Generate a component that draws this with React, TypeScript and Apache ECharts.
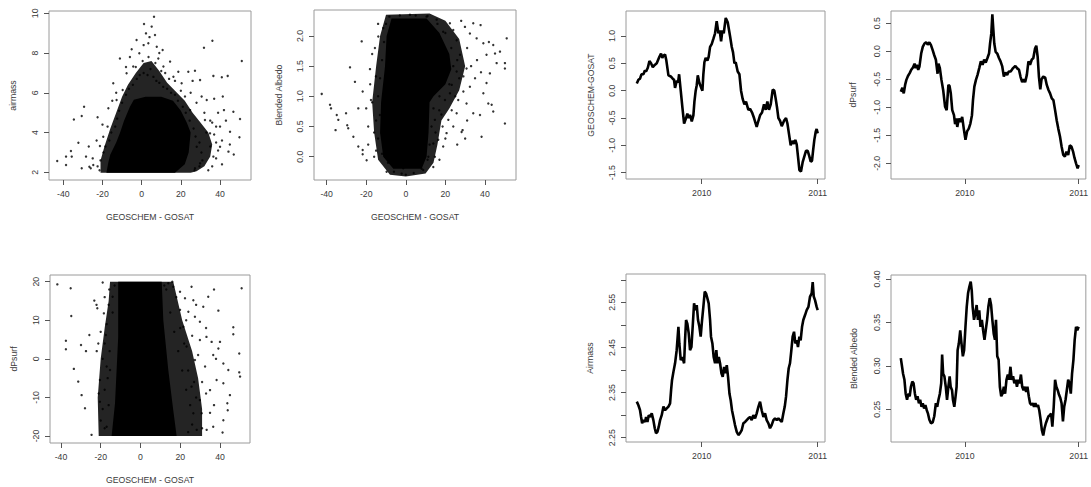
import React, { useEffect, useRef } from "react";
import * as echarts from "echarts";

// ---------- tick values ----------
const diffTicks = [-40, -20, 0, 20, 40];
const airmassScatterTicks = [2, 4, 6, 8, 10];
const albedoScatterTicks = [0, 0.5, 1.0, 1.5, 2.0];
const dpsurfScatterTicks = [-20, -10, 0, 10, 20];
const yearTicks = [2010, 2011];
const gosatDiffTicks = [-1.5, -1.0, -0.5, 0.0, 0.5, 1.0];
const dpsurfTimeTicks = [-2.0, -1.5, -1.0, -0.5, 0.0, 0.5];
const airmassTimeTicks = [2.25, 2.3, 2.35, 2.4, 2.45, 2.5, 2.55, 2.6];
const airmassTimeLabels = [2.25, 2.35, 2.45, 2.55];
const albedoTimeTicks = [0.25, 0.3, 0.35, 0.4];

// ---------- scatter: airmass vs GEOSCHEM - GOSAT ----------
// outline of the solid (saturated) point cloud
const airmassCore: [number, number][] = [
  [-18, 1.98], [-17, 2.5], [-16, 2.9], [-13, 3.5], [-11, 4.0], [-9, 4.6], [-6, 5.3], [-4, 5.65],
  [2, 5.8], [10, 5.8], [16, 5.6], [20, 5.1], [23, 4.5], [25, 4.0], [24, 3.0], [22, 2.4], [17, 1.98],
];
// outline of the densely speckled region around it
const airmassHalo: [number, number][] = [
  [-21, 1.98], [-21, 2.6], [-19, 3.3], [-16, 4.2], [-13, 5.0], [-10, 5.8], [-7, 6.4], [-3, 7.0],
  [1, 7.5], [5, 7.6], [9, 7.1], [13, 6.5], [17, 6.1], [22, 5.6], [26, 5.0], [30, 4.5], [34, 4.0],
  [36, 3.4], [35, 2.8], [32, 2.3], [28, 2.05], [25, 1.98],
];
const airmassPoints: [number, number][] = [
  [-43.1, 2.57], [-38.6, 2.79], [-38.6, 2.37], [-36.1, 3.07], [-35.7, 2.79], [-34.6, 4.66],
  [-32.3, 3.49], [-30.6, 4.83], [-30.6, 2.2], [-29.4, 5.3], [-28.4, 2.79], [-26.7, 2.28],
  [-25.0, 2.7], [-24.7, 2.37], [-22.5, 4.77], [-21.3, 3.32], [-19.6, 3.79], [-17.0, 5.22],
  [-17.4, 4.3], [-14.5, 6.48], [-12.8, 5.64], [-11.1, 7.73], [-9.7, 6.14], [-7.7, 6.98],
  [-5.1, 8.19], [-4.3, 7.32], [-2.6, 8.66], [-1.2, 7.99], [1.2, 9.46], [2.2, 8.99], [3.4, 8.49],
  [5.1, 9.33], [6.3, 9.83], [6.8, 8.91], [7.7, 8.32], [8.5, 7.73], [10.7, 8.15], [11.1, 7.32],
  [14.5, 7.57], [16.2, 6.81], [18.7, 7.06], [20.4, 6.48], [23.8, 7.06], [27.2, 7.11], [29.8, 6.64],
  [31.8, 8.27], [30.6, 5.81], [33.2, 5.64], [36.1, 8.62], [36.6, 6.85], [40.9, 6.78], [43.9, 6.85],
  [41.4, 5.81], [42.0, 5.13], [46.8, 5.05], [51.1, 7.6], [50.2, 4.68], [49.9, 3.76], [45.1, 4.04],
  [40.0, 4.3], [44.3, 3.04], [40.0, 3.29], [36.6, 2.79], [34.9, 3.96], [32.3, 4.63], [29.8, 2.45],
  [27.2, 2.2], [24.7, 5.13], [22.1, 5.81], [28.1, 3.29],
  [-21.5, 2.1], [-22.5, 2.3], [-21, 2.6], [-19.5, 3.0], [-18.5, 3.3], [-16.5, 3.6], [-15.5, 4.0],
  [-13.5, 4.3], [-12.5, 4.7], [-11.5, 5.1], [-10, 5.5], [-8, 5.9], [-6.5, 6.2], [-4.5, 6.4],
  [-2.5, 6.7], [-1, 6.9], [1, 7.0], [3, 6.9], [4.5, 7.2], [6, 6.8], [7.5, 6.6], [9, 6.5], [11, 6.3],
  [13, 6.2], [15, 6.0], [17, 5.9], [18.5, 5.6], [21, 5.3], [22.5, 5.0], [24.5, 4.6], [26.5, 4.2],
  [27.5, 3.8], [29.5, 3.5], [30.5, 3.0], [31, 2.6], [29.5, 2.3], [27, 2.1], [-3, 7.3], [0.5, 7.6],
  [3.5, 7.8], [7, 7.5], [10, 7.1], [14, 6.7], [20, 6.1], [33, 4.0], [38, 3.5], [36, 4.5], [-8, 7.3],
  [-27, 3.3], [-26, 2.2], [-23, 3.6], [-20, 4.4], [-15, 5.6], [-13, 6.0], [-6, 7.8], [1, 8.4],
  [4, 8.8], [9, 8.0], [12, 7.0], [17, 6.6], [25, 6.0], [28, 5.5], [32, 5.0], [35, 3.3], [38, 2.7],
  [41, 2.4], [34, 2.1], [39, 5.0], [43, 4.6], [45, 3.4], [47, 2.9], [37, 5.7], [26, 6.6],
  [37, 3.9], [39, 3.1], [38, 4.3], [36, 2.3], [35, 4.6], [41, 3.6],
];

// ---------- scatter: Blended Albedo vs GEOSCHEM - GOSAT ----------
const albedoCore: [number, number][] = [
  [-6.3, -0.2], [-11.4, 0], [-13, 0.4], [-12.5, 0.9], [-10.5, 1.5], [-9.7, 2.0], [-7.2, 2.29],
  [10.5, 2.29], [17, 2.05], [22, 1.7], [23, 1.45], [20, 1.2], [14, 1.0], [12, 0.9], [11.5, 0.4],
  [10.5, 0], [8, -0.2],
];
const albedoHalo: [number, number][] = [
  [-8, -0.3], [-14, -0.05], [-16, 0.4], [-17, 0.9], [-15, 1.5], [-13, 2.0], [-10, 2.35],
  [12, 2.37], [20, 2.25], [27, 1.95], [30, 1.5], [27, 1.1], [22, 0.8], [18, 0.6], [16, 0.2],
  [14, -0.1], [10, -0.28], [0, -0.33],
];
const albedoPoints: [number, number][] = [
  [-42.5, 1.04], [-38.3, 0.86], [-37.8, 0.8], [-34.9, 0.69], [-35.5, 0.44], [-34.1, 0.61],
  [-30.2, 0.72], [-29.6, 0.52], [-29.1, 0.47], [-28.2, 1.48], [-26.5, 0.33], [-25.7, 1.24],
  [-24.0, 0.8], [-24.0, 0.17], [-22.3, 1.91], [-21.8, 1.08], [-21.8, 0.11], [-21.8, 0.04],
  [-19.8, -0.06], [-18.1, 1.45], [-17.6, 0.94], [-15.6, 1.8], [-15.1, 1.33], [-13.9, 1.99],
  [-13.1, 0.69], [-12.2, 0.39], [-11.4, 2.13], [-9.7, -0.25], [-8.3, 2.32], [-10.5, 0.0],
  [-2.1, -0.28], [-1.3, -0.19], [8.8, -0.22], [13.9, -0.17], [14.7, 0.0], [16.4, 0.28], [18.9, 0.17],
  [18.6, 0.5], [20.6, 0.39], [21.5, 0.61], [23.2, 0.77], [24.0, 0.5], [25.7, 0.72], [28.2, 0.41],
  [28.7, 0.44], [26.5, 0.94], [29.1, 1.08], [30.7, 0.88], [32.4, 1.16], [34.1, 0.72], [38.3, 0.33],
  [37.5, 0.69], [39.2, 1.05], [40.8, 1.22], [41.7, 0.88], [43.4, 0.86], [44.2, 0.75], [42.5, 1.38],
  [45.9, 1.55], [45.1, 1.71], [44.2, 1.85], [40.8, 1.69], [39.2, 1.88], [37.8, 2.18], [34.1, 2.21],
  [32.4, 2.04], [35.8, 1.96], [47.6, 1.74], [50.1, 1.55], [51.0, 1.96], [50.1, 1.46], [50.1, 0.55],
  [30.7, 1.46], [27.4, 1.69], [25.7, 1.93], [25.7, 1.41], [29.1, 1.33], [23.2, 1.19], [22.3, 1.05],
  [19.8, 0.94], [18.9, 2.07], [22.3, 2.21], [29.9, 2.15], [15.6, 2.27], [10.5, 2.32], [2.1, 2.35],
  [16.9, 0.77], [14.7, 0.61], [13.9, 0.22], [11.4, 0.0],
  [-14, 0.3], [-15, 0.6], [-14, 1.0], [-13, 1.3], [-12, 1.6], [-11, 1.9], [-10, 2.2], [-15, 0.1],
  [-12, 0.05], [-9, -0.1], [-6, -0.25], [0, -0.3], [4, -0.27], [8, -0.2], [11, -0.05], [12, 0.2],
  [13, 0.5], [14, 0.8], [17, 1.0], [22, 1.2], [24, 1.5], [23, 1.8], [20, 2.05], [16, 2.2], [11, 2.33],
  [5, 2.34], [-3, 2.34], [26, 1.6], [27, 1.3], [25, 1.0], [18, 0.7], [15, 0.4], [-16, 0.4], [-17, 0.9],
  [-19, 0.5], [-18, 1.2], [-20, 0.8], [-17, 1.7], [-14, 2.2], [-16, 0.0], [-19, 0.2], [31, 1.8],
  [33, 1.5], [35, 1.3], [31, 0.6], [36, 1.6], [28, 2.25], [24, 2.1], [20, 0.3], [17, -0.05],
  [26, 0.2], [30, 0.3], [38, 1.4], [42, 1.9],
];

// ---------- scatter: dPsurf vs GEOSCHEM - GOSAT ----------
const dpsurfCore: [number, number][] = [
  [-11.2, 20], [10.7, 20], [11.5, 10], [14, -2.9], [16.5, -13.3], [18.2, -20], [-14.5, -20],
  [-12.8, -11.5], [-11.2, 5.7],
];
const dpsurfHalo: [number, number][] = [
  [-15.3, 20], [16.5, 20], [21, 10], [26, 2], [29, -5], [31, -13], [31, -20], [-21, -20],
  [-21.5, -10], [-20, 0], [-18, 8], [-16, 15],
];
const dpsurfPoints: [number, number][] = [
  [-41.8, 19.3], [-35.1, 18.3], [-34.8, 11.1], [-37.5, 4.7], [-37.5, 2.5], [-33.5, -2.6],
  [-31.3, -5.9], [-29.6, -9.4], [-27.9, -12.8], [-29.9, 3.6], [-27.4, 2.0], [-25.7, 6.2],
  [-24.6, -19.7], [-23.2, 15.1], [-22.1, 14.0], [-21.7, 13.1], [-21.2, 4.0], [-20.4, -5.5],
  [-20.4, -11.1], [-19.0, 19.8], [-18.4, 11.8], [-17.4, 6.2], [-17.0, -17.6], [-15.7, 18.0],
  [-15.3, -2.9], [-14.0, 16.1], [14.0, 19.6], [16.5, 18.7], [19.9, 17.4], [22.4, 15.7], [25.7, 18.7],
  [26.6, 15.2], [24.1, 12.2], [27.4, 10.9], [29.9, 9.6], [31.6, 13.5], [34.1, 16.1], [37.0, 18.0],
  [39.2, 12.5], [29.9, 4.9], [33.2, 5.7], [35.8, 4.4], [39.2, 2.7], [40.0, 4.4], [36.6, 1.0],
  [41.7, -1.2], [44.2, -2.9], [45.0, -9.4], [41.7, -6.3], [38.3, -5.5], [35.0, -8.1], [32.5, -2.0],
  [43.7, -11.5], [43.9, -13.3], [41.7, -15.9], [41.3, -19.1], [36.6, -17.6], [33.3, -18.4],
  [30.8, -14.1], [29.9, -10.7], [28.3, -18.4], [26.6, -14.1], [25.7, -7.2], [27.4, -0.3], [23.2, 3.2],
  [21.6, 8.3], [19.9, 12.7], [46.7, 8.2], [46.7, 6.4], [49.7, 1.4], [49.7, -3.5], [50.1, -4.6],
  [50.9, 18.3],
  [-16, 14], [-17, 9], [-18, 4], [-17, -2], [-18, -8], [-19, -13], [-18, -18], [-13, 19], [-14, 12],
  [-15.5, 2], [-16.5, -5], [-16, -12], [13, 18], [15, 12], [17, 7], [19, 2], [21, -3], [23, -8],
  [25, -12], [26, -17], [24, -19], [18, 16], [20, 8], [22, 4], [24, -3], [27, -6], [28, -10],
  [16, 20], [12, 19],
  [-20, -16], [-21, -9], [-19, 0], [-20, 7], [-18, 16], [-22, 2], [23, 10], [26, 6], [29, 1],
  [31, -6], [33, -9], [35, -14], [31, -18], [37, -12], [38, 0], [33, 8], [28, 14],
];

// ---------- time series (decimal year, value) ----------
const gosatDiffSeries: [number, number][] = [
  [2009.44, 0.13], [2009.454, 0.2], [2009.468, 0.22], [2009.48, 0.3], [2009.497, 0.3], [2009.51, 0.37],
  [2009.52, 0.35], [2009.535, 0.42], [2009.549, 0.54], [2009.563, 0.5], [2009.578, 0.43],
  [2009.595, 0.47], [2009.612, 0.5], [2009.635, 0.62], [2009.649, 0.68], [2009.66, 0.6],
  [2009.67, 0.64], [2009.684, 0.66], [2009.695, 0.55], [2009.713, 0.28], [2009.733, 0.26],
  [2009.75, 0.22], [2009.761, 0.2], [2009.77, 0.05], [2009.784, 0.18], [2009.796, 0.15],
  [2009.805, 0.3], [2009.819, 0.0], [2009.833, -0.3], [2009.848, -0.6], [2009.865, -0.5],
  [2009.876, -0.42], [2009.888, -0.5], [2009.899, -0.44], [2009.914, -0.56], [2009.928, -0.45],
  [2009.937, -0.2], [2009.948, 0.0], [2009.957, 0.1], [2009.966, 0.28], [2009.98, 0.14],
  [2009.994, 0.06], [2010.006, 0.0], [2010.014, 0.3], [2010.023, 0.52], [2010.034, 0.6],
  [2010.049, 0.55], [2010.06, 0.62], [2010.072, 0.8], [2010.086, 0.85], [2010.101, 0.95],
  [2010.115, 1.05], [2010.129, 1.27], [2010.144, 1.05], [2010.155, 1.1], [2010.167, 0.9],
  [2010.178, 1.1], [2010.19, 1.05], [2010.207, 1.33], [2010.224, 1.25], [2010.244, 1.0],
  [2010.259, 0.8], [2010.27, 0.7], [2010.282, 0.5], [2010.293, 0.52], [2010.31, 0.35],
  [2010.325, 0.3], [2010.339, 0.0], [2010.353, -0.15], [2010.368, -0.25], [2010.382, -0.2],
  [2010.402, -0.35], [2010.417, -0.33], [2010.434, -0.4], [2010.451, -0.5], [2010.474, -0.66],
  [2010.489, -0.55], [2010.503, -0.45], [2010.52, -0.4], [2010.537, -0.25], [2010.552, -0.35],
  [2010.566, -0.2], [2010.58, -0.35], [2010.595, -0.25], [2010.612, 0.02], [2010.626, 0.0],
  [2010.638, -0.15], [2010.649, -0.3], [2010.661, -0.5], [2010.675, -0.55], [2010.69, -0.65],
  [2010.71, -0.55], [2010.727, -0.5], [2010.739, -0.6], [2010.753, -0.8], [2010.767, -1.0],
  [2010.782, -0.92], [2010.796, -0.97], [2010.807, -0.9], [2010.819, -0.98], [2010.83, -1.2],
  [2010.842, -1.45], [2010.856, -1.48], [2010.871, -1.3], [2010.885, -1.2], [2010.899, -1.1],
  [2010.914, -1.1], [2010.928, -1.2], [2010.94, -1.3], [2010.951, -1.28], [2010.96, -1.1],
  [2010.971, -0.9], [2010.983, -0.75], [2010.991, -0.7], [2011.0, -0.78],
];

const dpsurfTimeSeries: [number, number][] = [
  [2009.438, -0.72], [2009.452, -0.65], [2009.464, -0.75], [2009.476, -0.6], [2009.487, -0.51],
  [2009.501, -0.44], [2009.516, -0.39], [2009.53, -0.33], [2009.545, -0.29], [2009.559, -0.22],
  [2009.568, -0.3], [2009.579, -0.24], [2009.591, -0.33], [2009.602, -0.27], [2009.617, -0.04],
  [2009.631, 0.08], [2009.646, 0.14], [2009.66, 0.16], [2009.674, 0.12], [2009.689, 0.16],
  [2009.703, 0.11], [2009.718, 0.02], [2009.732, -0.07], [2009.746, -0.15], [2009.761, -0.4],
  [2009.769, -0.22], [2009.781, -0.3], [2009.795, -0.51], [2009.81, -0.69], [2009.827, -0.99],
  [2009.841, -1.05], [2009.856, -0.6], [2009.866, -0.62], [2009.877, -0.75], [2009.89, -1.05],
  [2009.905, -1.14], [2009.915, -1.3], [2009.925, -1.2], [2009.934, -1.35], [2009.948, -1.2],
  [2009.963, -1.26], [2009.977, -1.17], [2009.991, -1.38], [2010.006, -1.58], [2010.02, -1.43],
  [2010.035, -1.38], [2010.049, -1.29], [2010.063, -1.14], [2010.072, -0.87], [2010.084, -0.63],
  [2010.098, -0.51], [2010.112, -0.42], [2010.127, -0.3], [2010.141, -0.18], [2010.156, -0.24],
  [2010.17, -0.15], [2010.184, -0.2], [2010.199, -0.12], [2010.213, -0.04], [2010.222, 0.14],
  [2010.233, 0.32], [2010.242, 0.66], [2010.251, 0.38], [2010.259, 0.14], [2010.271, -0.01],
  [2010.285, -0.04], [2010.3, -0.12], [2010.314, -0.18], [2010.329, -0.27], [2010.343, -0.45],
  [2010.357, -0.38], [2010.372, -0.42], [2010.386, -0.36], [2010.403, -0.36], [2010.424, -0.3],
  [2010.444, -0.26], [2010.458, -0.3], [2010.476, -0.33], [2010.49, -0.46], [2010.504, -0.55],
  [2010.519, -0.5], [2010.53, -0.55], [2010.545, -0.42], [2010.559, -0.18], [2010.573, -0.24],
  [2010.588, -0.15], [2010.602, -0.12], [2010.617, 0.05], [2010.628, 0.1], [2010.64, -0.1],
  [2010.651, -0.45], [2010.663, -0.68], [2010.674, -0.5], [2010.689, -0.45], [2010.706, -0.47],
  [2010.72, -0.6], [2010.735, -0.69], [2010.749, -0.75], [2010.764, -0.84], [2010.778, -0.87],
  [2010.793, -1.05], [2010.807, -1.23], [2010.821, -1.38], [2010.836, -1.52], [2010.85, -1.7],
  [2010.865, -1.85], [2010.879, -1.88], [2010.893, -1.79], [2010.908, -1.85], [2010.922, -1.68],
  [2010.937, -1.7], [2010.951, -1.79], [2010.963, -1.9], [2010.977, -2.0], [2010.991, -2.09],
  [2011.0, -2.03],
];

const airmassSeries: [number, number][] = [
  [2009.44, 2.33], [2009.454, 2.322], [2009.468, 2.311], [2009.477, 2.296], [2009.486, 2.282],
  [2009.497, 2.289], [2009.511, 2.285], [2009.52, 2.296], [2009.532, 2.285], [2009.543, 2.3],
  [2009.555, 2.296], [2009.569, 2.304], [2009.583, 2.289], [2009.595, 2.271], [2009.606, 2.26],
  [2009.618, 2.263], [2009.629, 2.274], [2009.641, 2.289], [2009.655, 2.3], [2009.67, 2.319],
  [2009.684, 2.311], [2009.698, 2.315], [2009.713, 2.319], [2009.727, 2.326], [2009.736, 2.356],
  [2009.744, 2.378], [2009.756, 2.396], [2009.77, 2.415], [2009.784, 2.444], [2009.799, 2.496],
  [2009.807, 2.459], [2009.819, 2.422], [2009.833, 2.429], [2009.848, 2.415], [2009.856, 2.466],
  [2009.865, 2.511], [2009.876, 2.503], [2009.888, 2.481], [2009.899, 2.444], [2009.911, 2.451],
  [2009.922, 2.496], [2009.934, 2.548], [2009.945, 2.533], [2009.957, 2.544], [2009.968, 2.511],
  [2009.98, 2.496], [2009.991, 2.474], [2010.003, 2.511], [2010.014, 2.54], [2010.026, 2.574],
  [2010.037, 2.57], [2010.049, 2.559], [2010.06, 2.548], [2010.072, 2.511], [2010.08, 2.474],
  [2010.092, 2.459], [2010.103, 2.429], [2010.115, 2.415], [2010.126, 2.444], [2010.135, 2.415],
  [2010.147, 2.429], [2010.158, 2.415], [2010.17, 2.393], [2010.181, 2.385], [2010.193, 2.407],
  [2010.204, 2.393], [2010.216, 2.411], [2010.227, 2.385], [2010.239, 2.348], [2010.25, 2.333],
  [2010.261, 2.311], [2010.273, 2.296], [2010.287, 2.278], [2010.302, 2.263], [2010.316, 2.256],
  [2010.33, 2.26], [2010.345, 2.267], [2010.359, 2.282], [2010.374, 2.285], [2010.388, 2.289],
  [2010.402, 2.293], [2010.417, 2.296], [2010.431, 2.289], [2010.445, 2.3], [2010.46, 2.293],
  [2010.474, 2.304], [2010.489, 2.319], [2010.503, 2.33], [2010.517, 2.311], [2010.532, 2.296],
  [2010.546, 2.304], [2010.56, 2.289], [2010.575, 2.282], [2010.589, 2.271], [2010.603, 2.278],
  [2010.618, 2.289], [2010.632, 2.293], [2010.647, 2.289], [2010.661, 2.293], [2010.675, 2.289],
  [2010.69, 2.285], [2010.704, 2.304], [2010.716, 2.319], [2010.727, 2.341], [2010.739, 2.378],
  [2010.75, 2.404], [2010.761, 2.415], [2010.773, 2.444], [2010.784, 2.474], [2010.796, 2.485],
  [2010.807, 2.459], [2010.819, 2.466], [2010.83, 2.451], [2010.842, 2.474], [2010.853, 2.466],
  [2010.865, 2.496], [2010.876, 2.511], [2010.891, 2.522], [2010.905, 2.533], [2010.92, 2.54],
  [2010.934, 2.563], [2010.948, 2.57], [2010.957, 2.595], [2010.966, 2.563], [2010.977, 2.555],
  [2010.991, 2.54], [2011.0, 2.533],
];

const albedoSeries: [number, number][] = [
  [2009.438, 0.309], [2009.447, 0.301], [2009.458, 0.291], [2009.47, 0.284], [2009.481, 0.268],
  [2009.493, 0.261], [2009.504, 0.268], [2009.516, 0.265], [2009.527, 0.276], [2009.539, 0.282],
  [2009.55, 0.28], [2009.562, 0.268], [2009.573, 0.261], [2009.585, 0.265], [2009.597, 0.257],
  [2009.608, 0.261], [2009.62, 0.253], [2009.631, 0.257], [2009.643, 0.251], [2009.654, 0.255],
  [2009.666, 0.249], [2009.677, 0.245], [2009.689, 0.238], [2009.703, 0.234], [2009.718, 0.235],
  [2009.732, 0.242], [2009.746, 0.257], [2009.758, 0.253], [2009.769, 0.261], [2009.781, 0.268],
  [2009.793, 0.28], [2009.801, 0.313], [2009.81, 0.291], [2009.821, 0.288], [2009.833, 0.276],
  [2009.844, 0.261], [2009.856, 0.276], [2009.867, 0.288], [2009.876, 0.276], [2009.888, 0.272],
  [2009.896, 0.261], [2009.908, 0.253], [2009.919, 0.265], [2009.928, 0.276], [2009.937, 0.318],
  [2009.948, 0.326], [2009.96, 0.341], [2009.971, 0.326], [2009.983, 0.311], [2009.994, 0.318],
  [2010.006, 0.345], [2010.017, 0.368], [2010.029, 0.384], [2010.04, 0.391], [2010.052, 0.397],
  [2010.061, 0.387], [2010.069, 0.368], [2010.081, 0.353], [2010.092, 0.36], [2010.104, 0.37],
  [2010.115, 0.353], [2010.127, 0.364], [2010.138, 0.345], [2010.15, 0.353], [2010.161, 0.341],
  [2010.173, 0.33], [2010.184, 0.341], [2010.196, 0.353], [2010.207, 0.368], [2010.219, 0.378],
  [2010.231, 0.37], [2010.242, 0.353], [2010.254, 0.337], [2010.265, 0.33], [2010.274, 0.353],
  [2010.285, 0.311], [2010.297, 0.307], [2010.308, 0.276], [2010.32, 0.265], [2010.331, 0.268],
  [2010.343, 0.276], [2010.354, 0.268], [2010.366, 0.284], [2010.378, 0.29], [2010.389, 0.284],
  [2010.401, 0.299], [2010.412, 0.284], [2010.424, 0.288], [2010.435, 0.28], [2010.447, 0.284],
  [2010.458, 0.276], [2010.47, 0.284], [2010.481, 0.28], [2010.493, 0.29], [2010.504, 0.276],
  [2010.516, 0.272], [2010.527, 0.276], [2010.539, 0.27], [2010.55, 0.276], [2010.562, 0.265],
  [2010.573, 0.257], [2010.585, 0.255], [2010.597, 0.257], [2010.608, 0.253], [2010.62, 0.257],
  [2010.631, 0.253], [2010.643, 0.255], [2010.654, 0.249], [2010.666, 0.238], [2010.677, 0.226],
  [2010.689, 0.22], [2010.7, 0.228], [2010.712, 0.234], [2010.723, 0.238], [2010.735, 0.242],
  [2010.746, 0.243], [2010.758, 0.245], [2010.769, 0.23], [2010.781, 0.253], [2010.793, 0.284],
  [2010.804, 0.276], [2010.816, 0.272], [2010.827, 0.267], [2010.839, 0.263], [2010.85, 0.257],
  [2010.862, 0.236], [2010.873, 0.253], [2010.885, 0.261], [2010.896, 0.272], [2010.908, 0.284],
  [2010.919, 0.28], [2010.931, 0.268], [2010.942, 0.291], [2010.954, 0.307], [2010.965, 0.33],
  [2010.977, 0.345], [2010.988, 0.341], [2011.0, 0.345],
];

// ---------- helpers ----------
const FONT = "Liberation Sans, Arial, Helvetica, sans-serif";
const TEXT = "#3a3a3a";
const FS = 8.7;

type Fmt = (v: number) => string;
const f0: Fmt = (v) => String(Math.round(v));
const f1: Fmt = (v) => v.toFixed(1);
const f2: Fmt = (v) => v.toFixed(2);

function xAxis(grid: number, min: number, max: number, ticks: number[], fmt: Fmt, name: string) {
  return {
    type: "value", gridIndex: grid, min, max,
    axisLine: { show: false, onZero: false }, splitLine: { show: false },
    axisTick: { show: true, length: 5, customValues: ticks, lineStyle: { color: "#555", width: 1 } },
    axisLabel: { customValues: ticks, formatter: fmt, color: TEXT, fontSize: FS, fontFamily: FONT, margin: 9 },
    name, nameLocation: "middle", nameGap: 32,
    nameTextStyle: { color: TEXT, fontSize: FS, fontFamily: FONT },
  };
}
function yAxis(grid: number, min: number, max: number, ticks: number[], labels: number[], fmt: Fmt, name: string, gap: number) {
  return {
    type: "value", gridIndex: grid, min, max,
    axisLine: { show: false, onZero: false }, splitLine: { show: false },
    axisTick: { show: true, length: 5, customValues: ticks, lineStyle: { color: "#555", width: 1 } },
    axisLabel: { customValues: labels, formatter: fmt, rotate: 90, color: TEXT, fontSize: FS, fontFamily: FONT, margin: 10 },
    name, nameLocation: "middle", nameGap: gap,
    nameTextStyle: { color: TEXT, fontSize: FS, fontFamily: FONT },
  };
}
function areaSeries(idx: number, poly: [number, number][], opacity: number) {
  return {
    type: "custom", xAxisIndex: idx, yAxisIndex: idx, data: poly,
    renderItem: (params: any, api: any) => {
      if (params.dataIndex !== 0) return { type: "group", children: [] };
      const pts = poly.map((p) => api.coord(p));
      return { type: "polygon", shape: { points: pts }, style: { fill: "#000", opacity } };
    },
    silent: true,
  };
}
function dotSeries(idx: number, pts: [number, number][]) {
  return {
    type: "scatter", xAxisIndex: idx, yAxisIndex: idx, data: pts,
    symbol: "circle", symbolSize: 2.4, itemStyle: { color: "#000" }, silent: true,
  };
}
function lineSeries(idx: number, pts: [number, number][]) {
  return {
    type: "line", xAxisIndex: idx, yAxisIndex: idx, data: pts, showSymbol: false,
    lineStyle: { color: "#000", width: 2.6 }, silent: true,
  };
}

const gridStyle = { show: true, borderColor: "#9a9a9a", borderWidth: 1, backgroundColor: "transparent" };
const HALO = 0.86;

export default function App() {
  const ref = useRef<HTMLDivElement>(null);
  useEffect(() => {
    if (!ref.current) return;
    const chart = echarts.init(ref.current, undefined, { renderer: "svg" });
    chart.setOption({
      animation: false,
      backgroundColor: "#fff",
      grid: [
        { left: 49, top: 11, width: 202, height: 169, ...gridStyle },
        { left: 314, top: 10, width: 202, height: 170, ...gridStyle },
        { left: 50, top: 275, width: 200, height: 168, ...gridStyle },
        { left: 626, top: 11, width: 199, height: 168, ...gridStyle },
        { left: 891, top: 11, width: 198, height: 168, ...gridStyle },
        { left: 626, top: 274, width: 199, height: 168, ...gridStyle },
        { left: 891, top: 275, width: 198, height: 167, ...gridStyle },
      ],
      xAxis: [
        xAxis(0, -47.3, 55.8, diffTicks, f0, "GEOSCHEM - GOSAT"),
        xAxis(1, -46.4, 55.7, diffTicks, f0, "GEOSCHEM - GOSAT"),
        xAxis(2, -45.5, 55.1, diffTicks, f0, "GEOSCHEM - GOSAT"),
        xAxis(3, 2009.347, 2011.063, yearTicks, f0, ""),
        xAxis(4, 2009.352, 2011.063, yearTicks, f0, ""),
        xAxis(5, 2009.347, 2011.063, yearTicks, f0, ""),
        xAxis(6, 2009.352, 2011.063, yearTicks, f0, ""),
      ],
      yAxis: [
        yAxis(0, 1.613, 10.116, airmassScatterTicks, airmassScatterTicks, f0, "airmass", 32),
        yAxis(1, -0.386, 2.43, albedoScatterTicks, albedoScatterTicks, f1, "Blended Albedo", 31),
        yAxis(2, -21.81, 21.74, dpsurfScatterTicks, dpsurfScatterTicks, f0, "dPsurf", 32),
        yAxis(3, -1.615, 1.457, gosatDiffTicks, gosatDiffTicks, f1, "GEOSCHEM-GOSAT", 31),
        yAxis(4, -2.28, 0.72, dpsurfTimeTicks, dpsurfTimeTicks, f1, "dPsurf", 34),
        yAxis(5, 2.2405, 2.613, airmassTimeTicks, airmassTimeLabels, f2, "Airmass", 32),
        yAxis(6, 0.2124, 0.4046, albedoTimeTicks, albedoTimeTicks, f2, "Blended Albedo", 33),
      ],
      series: [
        areaSeries(0, airmassHalo, HALO), areaSeries(0, airmassCore, 1), dotSeries(0, airmassPoints),
        areaSeries(1, albedoHalo, HALO), areaSeries(1, albedoCore, 1), dotSeries(1, albedoPoints),
        areaSeries(2, dpsurfHalo, HALO), areaSeries(2, dpsurfCore, 1), dotSeries(2, dpsurfPoints),
        lineSeries(3, gosatDiffSeries),
        lineSeries(4, dpsurfTimeSeries),
        lineSeries(5, airmassSeries),
        lineSeries(6, albedoSeries),
      ],
    });
    return () => chart.dispose();
  }, []);
  return (
    <div
      ref={ref}
      style={{ position: "fixed", left: 0, top: 0, width: 1091, height: 487, background: "#fff" }}
    />
  );
}
